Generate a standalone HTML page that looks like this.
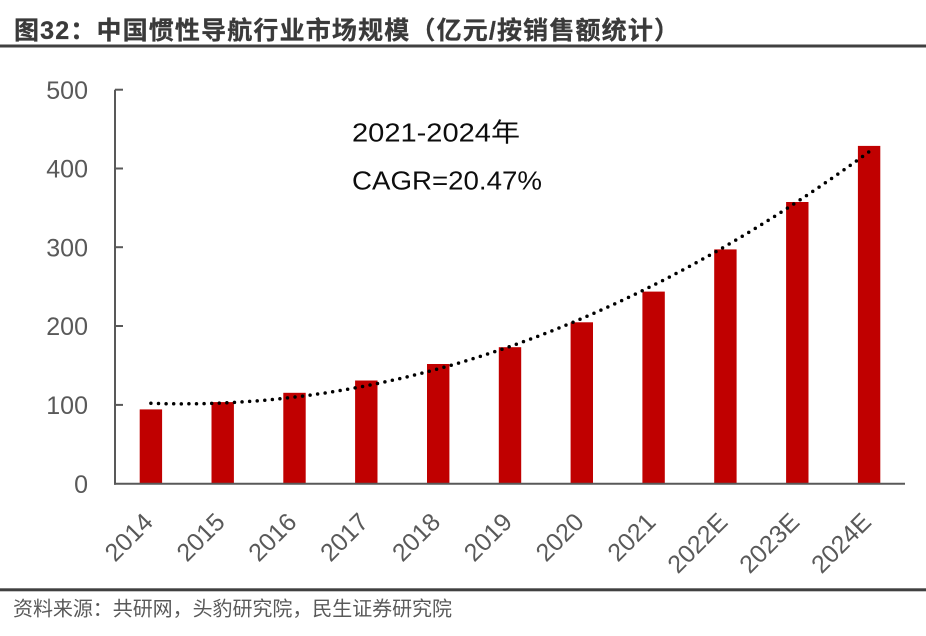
<!DOCTYPE html>
<html>
<head>
<meta charset="utf-8">
<style>
  html, body { margin: 0; padding: 0; background: #fff; }
  body { width: 926px; height: 636px; overflow: hidden; }
  svg { display: block; }
  text { font-family: "Liberation Sans", "Noto Sans CJK SC", sans-serif; }
</style>
</head>
<body>
<svg width="926" height="636" viewBox="0 0 926 636" xmlns="http://www.w3.org/2000/svg">
  <rect x="0" y="0" width="926" height="636" fill="#ffffff"/>

  <!-- Title -->
  <text x="14" y="39" font-size="25" font-weight="bold" fill="#3a3a3a" stroke="#3a3a3a" stroke-width="0.3" textLength="665" lengthAdjust="spacing">图32：中国惯性导航行业市场规模（亿元/按销售额统计）</text>
  <rect x="0" y="44.5" width="926" height="3" fill="#404040"/>

  <!-- Y axis -->
  <line x1="115" y1="89.7" x2="115" y2="484.7" stroke="#595959" stroke-width="2"/>
  <g stroke="#595959" stroke-width="2">
    <line x1="115" y1="89.7" x2="123" y2="89.7"/>
    <line x1="115" y1="168.5" x2="123" y2="168.5"/>
    <line x1="115" y1="247.2" x2="123" y2="247.2"/>
    <line x1="115" y1="326.0" x2="123" y2="326.0"/>
    <line x1="115" y1="404.9" x2="123" y2="404.9"/>
  </g>
  <g font-size="25" fill="#595959" text-anchor="end">
    <text x="88" y="98.8">500</text>
    <text x="88" y="177.6">400</text>
    <text x="88" y="256.3">300</text>
    <text x="88" y="335.1">200</text>
    <text x="88" y="414.0">100</text>
    <text x="88" y="492.8">0</text>
  </g>

  <!-- Bars -->
  <g fill="#C00000">
    <rect x="139.7" y="409.4" width="22.4" height="74.3"/>
    <rect x="211.5" y="402.1" width="22.4" height="81.6"/>
    <rect x="283.3" y="392.8" width="22.4" height="90.9"/>
    <rect x="355.1" y="380.5" width="22.4" height="103.2"/>
    <rect x="427.0" y="364.0" width="22.4" height="119.7"/>
    <rect x="498.8" y="347.2" width="22.4" height="136.5"/>
    <rect x="570.6" y="322.3" width="22.4" height="161.4"/>
    <rect x="642.4" y="291.6" width="22.4" height="192.1"/>
    <rect x="714.2" y="249.4" width="22.4" height="234.3"/>
    <rect x="786.1" y="202.0" width="22.4" height="281.7"/>
    <rect x="857.9" y="145.9" width="22.4" height="337.8"/>
  </g>

  <!-- X axis -->
  <line x1="114" y1="483.7" x2="905" y2="483.7" stroke="#595959" stroke-width="2"/>

  <!-- Trend line (quadratic) -->
  <path d="M150.9,403.3 Q510.0,415.4 869.1,151.7" fill="none" stroke="#000" stroke-width="3.5" stroke-linecap="round" stroke-dasharray="0 7.6"/>

  <!-- X labels -->
  <g font-size="25" fill="#595959" text-anchor="end">
    <text transform="translate(154.5,523.5) rotate(-45)">2014</text>
    <text transform="translate(226.3,523.5) rotate(-45)">2015</text>
    <text transform="translate(298.1,523.5) rotate(-45)">2016</text>
    <text transform="translate(369.9,523.5) rotate(-45)">2017</text>
    <text transform="translate(441.8,523.5) rotate(-45)">2018</text>
    <text transform="translate(513.6,523.5) rotate(-45)">2019</text>
    <text transform="translate(585.4,523.5) rotate(-45)">2020</text>
    <text transform="translate(657.2,523.5) rotate(-45)">2021</text>
    <text transform="translate(729.0,523.5) rotate(-45)">2022E</text>
    <text transform="translate(800.9,523.5) rotate(-45)">2023E</text>
    <text transform="translate(872.7,523.5) rotate(-45)">2024E</text>
  </g>

  <!-- Annotation -->
  <text x="352" y="141.5" font-size="26" fill="#0d0d0d" textLength="168" lengthAdjust="spacingAndGlyphs">2021-2024年</text>
  <text x="352" y="189.5" font-size="26" fill="#0d0d0d" textLength="190" lengthAdjust="spacingAndGlyphs">CAGR=20.47%</text>

  <!-- Bottom rule & source -->
  <rect x="0" y="588.3" width="926" height="3" fill="#404040"/>
  <text x="13" y="615.5" font-size="20" fill="#595959" textLength="439" lengthAdjust="spacing">资料来源：共研网，头豹研究院，民生证券研究院</text>
</svg>
</body>
</html>
